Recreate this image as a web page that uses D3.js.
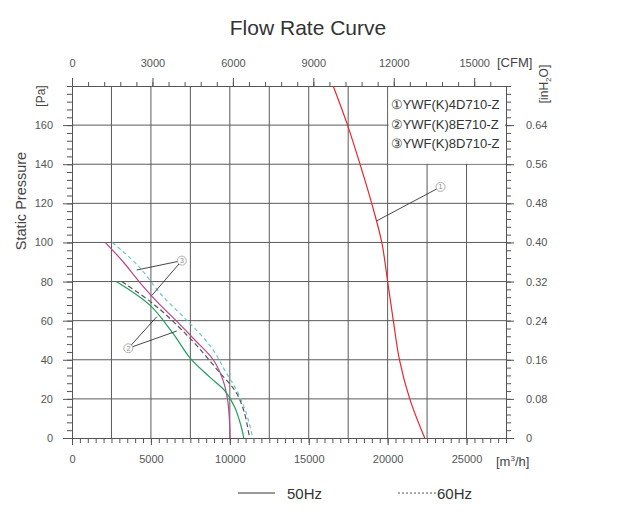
<!DOCTYPE html>
<html>
<head>
<meta charset="utf-8">
<script src="https://cdn.jsdelivr.net/npm/d3@7"></script>
<style>
    body { margin: 0; background: #fff; }
    svg { font-family: "Liberation Sans", Arial, sans-serif; }
    .axis text { font-size: 11px; fill: #555; }
    .axis path, .axis line { stroke: #555; }
</style>
</head>
<body>
<svg class="chart" width="631" height="518"></svg>
<script>
// tick labels of the four axes
const flowTicks = [0, 5000, 10000, 15000, 20000, 25000];
const cfmTicks = [0, 3000, 6000, 9000, 12000, 15000];
const paTicks = [0, 20, 40, 60, 80, 100, 120, 140, 160];
const inTicks = [0, 0.08, 0.16, 0.24, 0.32, 0.40, 0.48, 0.56, 0.64];

const models = ['①YWF(K)4D710-Z', '②YWF(K)8E710-Z', '③YWF(K)8D710-Z'];
const freqs = ['50Hz', '60Hz'];

// curve ① 50Hz (red)
const c1Flow = [16550, 17460, 18250, 18990, 19630, 20000, 20360, 20750, 21400, 22350];
const c1Pa = [180, 160, 140, 120, 100, 80, 60, 40, 20, 0];

// curve ② 50Hz (green)
const c2Flow = [2800, 4950, 6400, 7500, 8750, 9700, 10300, 10750, 10880];
const c2Pa = [80, 67.8, 53.5, 40.7, 31, 24, 16, 5, 0];

// curve ② 60Hz (grey dashed)
const c2bFlow = [3150, 5270, 7500, 9310, 10370, 10900, 11250];
const c2bPa = [80, 67.8, 50.8, 33.9, 23.7, 13.6, 0];

// curve ③ 50Hz (magenta)
const c3Flow = [2100, 3250, 4250, 5350, 6600, 7800, 8950, 9550, 9850, 9970, 10020];
const c3Pa = [100, 90, 80, 70, 60, 50, 40, 30, 20, 10, 0];

// curve ③ 60Hz (cyan dashed)
const c3bFlow = [2550, 4200, 5690, 7390, 8880, 9730, 10370, 11010, 11450];
const c3bPa = [100, 88, 73, 59.3, 45.8, 33.9, 25.4, 13.6, 0];

// callouts: label position and the points they point to [flow, Pa]
const callouts = [
    { label: '1', at: [23350, 128.4], to: [[19300, 111]] },
    { label: '2', at: [3570, 45.9], to: [[5370, 62], [6640, 54.7]] },
    { label: '3', at: [6960, 90.7], to: [[4100, 85.9], [5060, 72.9]] }
];

const series = [
    { flow: c1Flow, pa: c1Pa, color: '#e8262e', dash: null },
    { flow: c3bFlow, pa: c3bPa, color: '#6cc8cc', dash: '4,3' },
    { flow: c2bFlow, pa: c2bPa, color: '#555', dash: '5,3' },
    { flow: c3Flow, pa: c3Pa, color: '#b8468c', dash: null },
    { flow: c2Flow, pa: c2Pa, color: '#1f9e5c', dash: null }
];

var svg = d3.select('.chart');

// plot box
var pLeft = 72, pRight = 506, pTop = 86, pBottom = 438;

var x = d3.scaleLinear().domain([0, 27500]).range([pLeft, pRight]);
var xCfm = d3.scaleLinear().domain([0, 27500 / 1.699]).range([pLeft, pRight]);
var y = d3.scaleLinear().domain([0, 180]).range([pBottom, pTop]);
var yIn = d3.scaleLinear().domain([0, 0.72]).range([pBottom, pTop]);

// grid
svg.append('g').selectAll('line')
    .data(d3.range(2500, 27500, 2500))
    .enter().append('line')
    .attr('x1', d => x(d)).attr('x2', d => x(d))
    .attr('y1', pTop).attr('y2', pBottom)
    .attr('stroke', '#5a5a5a');

svg.append('g').selectAll('line')
    .data(d3.range(20, 180, 20))
    .enter().append('line')
    .attr('x1', pLeft).attr('x2', pRight)
    .attr('y1', d => y(d)).attr('y2', d => y(d))
    .attr('stroke', '#5a5a5a');

// axes, major and minor ticks
function addAxis(axis, pos) {
    return svg.append('g')
        .attr('class', 'axis')
        .attr('transform', pos)
        .call(axis);
}

addAxis(d3.axisBottom(x).tickValues(d3.range(0, 27501, 500)).tickSize(5).tickFormat(''), 'translate(0,' + pBottom + ')')
    .select('.domain').remove();
addAxis(d3.axisBottom(x).tickValues(flowTicks).tickSize(7).tickPadding(10).tickSizeOuter(0).tickFormat(d3.format('d')), 'translate(0,' + pBottom + ')');

addAxis(d3.axisTop(xCfm).tickValues(d3.range(0, 16200, 600)).tickSize(4).tickFormat(''), 'translate(0,' + pTop + ')')
    .select('.domain').remove();
addAxis(d3.axisTop(xCfm).tickValues(cfmTicks).tickSize(8).tickPadding(11).tickSizeOuter(0).tickFormat(d3.format('d')), 'translate(0,' + pTop + ')');

addAxis(d3.axisLeft(y).tickValues(d3.range(0, 181, 4)).tickSize(5).tickFormat(''), 'translate(' + pLeft + ',0)')
    .select('.domain').remove();
addAxis(d3.axisLeft(y).tickValues(paTicks).tickSize(9).tickPadding(10).tickSizeOuter(0), 'translate(' + pLeft + ',0)');

addAxis(d3.axisRight(yIn).tickValues(d3.range(0, 0.7201, 0.016)).tickSize(5).tickFormat(''), 'translate(' + pRight + ',0)')
    .select('.domain').remove();
addAxis(d3.axisRight(yIn).tickValues(inTicks).tickSize(8).tickPadding(12).tickSizeOuter(0)
    .tickFormat(d => d === 0 ? '0' : d.toFixed(2)), 'translate(' + pRight + ',0)');

// legend box over the grid
svg.append('rect')
    .attr('x', x(20000) + 1).attr('y', pTop + 1)
    .attr('width', pRight - x(20000) - 2).attr('height', y(140) - pTop - 1.5)
    .attr('fill', '#fff');

svg.append('g').selectAll('text')
    .data(models)
    .enter().append('text')
    .attr('x', x(20000) + 3)
    .attr('y', (d, i) => 109 + i * 19.5)
    .attr('font-size', '13px')
    .attr('fill', '#333')
    .text(d => d);

// curves
var line = d3.line()
    .x(d => x(d[0]))
    .y(d => y(d[1]))
    .curve(d3.curveCatmullRom.alpha(0.5));

svg.append('g').selectAll('path')
    .data(series)
    .enter().append('path')
    .attr('d', d => line(d.flow.map((f, i) => [f, d.pa[i]])))
    .attr('fill', 'none')
    .attr('stroke', d => d.color)
    .attr('stroke-width', 1.2)
    .attr('stroke-dasharray', d => d.dash);

// callouts
callouts.forEach(c => {
    c.to.forEach(p => {
        svg.append('line')
            .attr('x1', x(c.at[0])).attr('y1', y(c.at[1]))
            .attr('x2', x(p[0])).attr('y2', y(p[1]))
            .attr('stroke', '#333').attr('stroke-width', 0.9);
    });
    svg.append('circle')
        .attr('cx', x(c.at[0])).attr('cy', y(c.at[1])).attr('r', 4.5)
        .attr('fill', '#fff').attr('stroke', '#999').attr('stroke-width', 0.8);
    svg.append('text')
        .attr('x', x(c.at[0])).attr('y', y(c.at[1]) + 2.5)
        .attr('text-anchor', 'middle')
        .attr('font-size', '7px').attr('fill', '#888')
        .text(c.label);
});

// titles and units
svg.append('text')
    .attr('x', 308).attr('y', 35)
    .attr('text-anchor', 'middle')
    .attr('font-size', '21px').attr('fill', '#333')
    .text('Flow Rate Curve');

svg.append('text')
    .attr('x', 497).attr('y', 67)
    .attr('font-size', '13px').attr('fill', '#444')
    .text('[CFM]');

var m3 = svg.append('text')
    .attr('x', 496).attr('y', 466)
    .attr('font-size', '13px').attr('fill', '#444');
m3.append('tspan').text('[m');
m3.append('tspan').attr('font-size', '8px').attr('dy', -5).text('3');
m3.append('tspan').attr('dy', 5).text('/h]');

svg.append('text')
    .attr('transform', 'translate(26,201) rotate(-90)')
    .attr('text-anchor', 'middle')
    .attr('font-size', '14.5px').attr('fill', '#444')
    .text('Static Pressure');

svg.append('text')
    .attr('transform', 'translate(45,96) rotate(-90)')
    .attr('text-anchor', 'middle')
    .attr('font-size', '12px').attr('fill', '#444')
    .text('[Pa]');

var inh = svg.append('text')
    .attr('transform', 'translate(548,84) rotate(-90)')
    .attr('text-anchor', 'middle')
    .attr('font-size', '12px').attr('fill', '#444');
inh.append('tspan').text('[inH');
inh.append('tspan').attr('font-size', '8px').attr('dy', 3).text('2');
inh.append('tspan').attr('dy', -3).text('O]');

// frequency legend
var fl = svg.append('g');
fl.append('line')
    .attr('x1', 238).attr('x2', 275).attr('y1', 493).attr('y2', 493)
    .attr('stroke', '#333');
fl.append('line')
    .attr('x1', 398).attr('x2', 436).attr('y1', 493).attr('y2', 493)
    .attr('stroke', '#555').attr('stroke-dasharray', '2,2');
fl.selectAll('text')
    .data(freqs)
    .enter().append('text')
    .attr('x', (d, i) => i ? 437 : 287)
    .attr('y', 499)
    .attr('font-size', '15px').attr('fill', '#333')
    .text(d => d);
</script>
</body>
</html>
